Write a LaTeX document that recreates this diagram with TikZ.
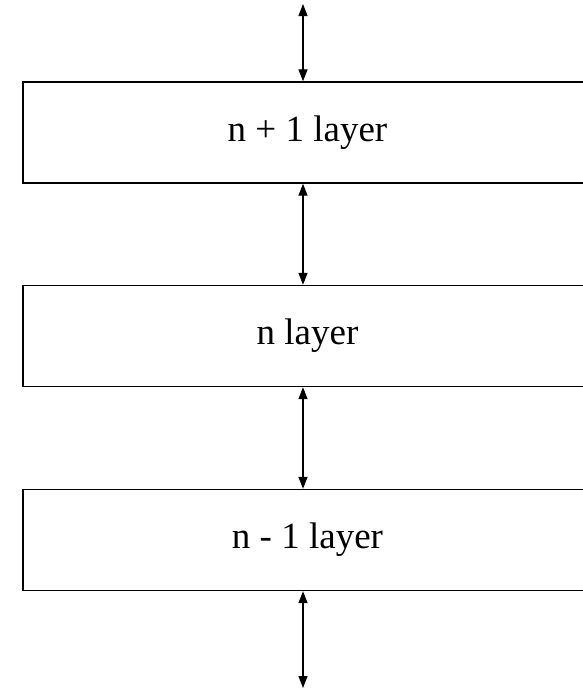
\documentclass[tikz,border=0pt]{standalone}
\usepackage{fontspec}
\setmainfont{Liberation Serif}
\usepackage{tikz}
\usetikzlibrary{positioning,arrows.meta,calc}
\tikzset{
  layer/.style = {draw, rectangle, line width=1.4pt, minimum width=569pt,
                  minimum height=101pt, inner sep=0pt,
                  font=\fontsize{37}{40}\selectfont},
  link/.style  = {{Triangle[length=12pt,width=9pt]}-{Triangle[length=12pt,width=9pt]},
                  line width=1.3pt}
}

\begin{document}
\begin{tikzpicture}[x=1pt,y=-1pt]
      \useasboundingbox (0,0) rectangle (583,691);
      \node[layer] (up)   at (307.5,132.5) {n + 1 layer};
      \node[layer] (mid)  at (307.5,336)   {n layer};
      \node[layer] (down) at (307.5,540)   {n - 1 layer};
      \coordinate (top) at (303,4);
      \coordinate (bot) at (303,688);
      \draw[link] (top) -- (top |- up.north);
      \draw[link] (top |- up.south) -- (top |- mid.north);
      \draw[link] (top |- mid.south) -- (top |- down.north);
      \draw[link] (top |- down.south) -- (bot);
    \end{tikzpicture}
\end{document}
